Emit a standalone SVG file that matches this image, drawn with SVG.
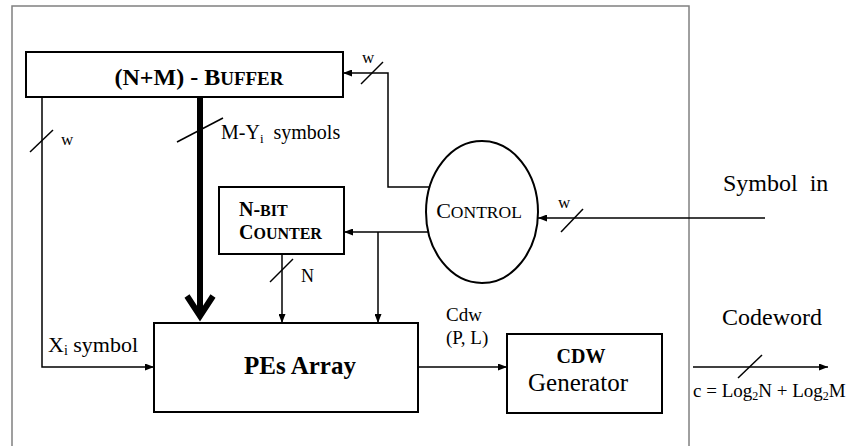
<svg xmlns="http://www.w3.org/2000/svg" width="857" height="446" viewBox="0 0 857 446">
<defs>
<style>
text{font-family:"Times New Roman","Liberation Serif",Tinos,serif;fill:#000}
.box{fill:#fff;stroke:#000;stroke-width:2}
.ln{fill:none;stroke:#000;stroke-width:1.5}
.sl{fill:none;stroke:#000;stroke-width:1.5}
.b{font-weight:bold}
</style>
<marker id="ah" viewBox="0 0 9 7" refX="9" refY="3.5" markerWidth="9" markerHeight="7" markerUnits="userSpaceOnUse" orient="auto">
<path d="M0,0 L9,3.5 L0,7 Z" fill="#000"/>
</marker>
</defs>
<rect width="857" height="446" fill="#fff"/>
<rect id="frame" x="12" y="6" width="677" height="450" fill="none" stroke="#808080" stroke-width="1.5"/>

<g id="connectors">
<!-- buffer to PEs (w) -->
<polyline class="ln" points="42,97 42,367 154,367" marker-end="url(#ah)"/>
<line class="sl" x1="30" y1="152" x2="53" y2="130"/>
<!-- thick M-Yi -->
<line x1="200" y1="97" x2="200" y2="314" stroke="#000" stroke-width="6"/>
<polyline points="187,296 200,316 213,296" fill="none" stroke="#000" stroke-width="6" stroke-linejoin="miter"/>
<line class="sl" x1="177" y1="142" x2="223" y2="118"/>
<!-- control to buffer -->
<polyline class="ln" points="433,187 388,187 388,73 343,73" marker-end="url(#ah)"/>
<line class="sl" x1="361" y1="84" x2="383" y2="62"/>
<!-- control to counter -->
<line class="ln" x1="428" y1="232" x2="344" y2="232" marker-end="url(#ah)"/>
<line class="ln" x1="378" y1="232" x2="378" y2="323" marker-end="url(#ah)"/>
<!-- counter to PEs -->
<line class="ln" x1="282" y1="254" x2="282" y2="323" marker-end="url(#ah)"/>
<line class="sl" x1="270" y1="282" x2="293" y2="259"/>
<!-- symbol in -->
<line class="ln" x1="765" y1="218" x2="538" y2="218" marker-end="url(#ah)"/>
<line class="sl" x1="561" y1="232" x2="583" y2="209"/>
<!-- PEs to CDW -->
<line class="ln" x1="418" y1="367" x2="507" y2="367" marker-end="url(#ah)"/>
<!-- codeword out -->
<line class="ln" x1="693" y1="367" x2="828" y2="367" marker-end="url(#ah)"/>
<line class="sl" x1="738" y1="378" x2="762" y2="355"/>
</g>

<g id="buffer">
<rect class="box" x="26" y="52" width="317" height="45"/>
<text class="b" x="199" y="85" text-anchor="middle" font-size="24">(N+M) - B<tspan font-size="19">UFFER</tspan></text>
</g>

<g id="counter">
<rect class="box" x="219" y="187" width="125" height="67"/>
<text class="b" x="239" y="216" font-size="20">N-<tspan font-size="16">BIT</tspan></text>
<text class="b" x="239" y="239" font-size="20">C<tspan font-size="16">OUNTER</tspan></text>
</g>

<g id="control">
<ellipse cx="482" cy="212" rx="56" ry="71" fill="#fff" stroke="#000" stroke-width="2"/>
<text x="479" y="218" text-anchor="middle" font-size="22">C<tspan font-size="17.5">ONTROL</tspan></text>
</g>

<g id="pes">
<rect class="box" x="154" y="323" width="264" height="89"/>
<text class="b" x="300" y="374" text-anchor="middle" font-size="25">PEs Array</text>
</g>

<g id="cdw">
<rect class="box" x="507" y="334" width="155" height="79"/>
<text class="b" x="581" y="363" text-anchor="middle" font-size="20">CDW</text>
<text x="578" y="391" text-anchor="middle" font-size="25">Generator</text>
</g>

<g id="labels">
<text x="61" y="145" font-size="17">w</text>
<text x="221" y="139" font-size="20" xml:space="preserve">M-Y<tspan font-size="13" dy="4">i</tspan><tspan dy="-4">  symbols</tspan></text>
<text x="362" y="63" font-size="17">w</text>
<text x="301" y="282" font-size="18">N</text>
<text x="558" y="208" font-size="17">w</text>
<text x="723" y="191" font-size="24" xml:space="preserve">Symbol  in</text>
<text x="48" y="352" font-size="22">X<tspan font-size="14" dy="3">i</tspan><tspan dy="-3"> symbol</tspan></text>
<text x="446" y="321" font-size="19">Cdw</text>
<text x="446" y="344" font-size="19">(P, L)</text>
<text x="722" y="325" font-size="24">Codeword</text>
<text x="693" y="397" font-size="19">c = Log<tspan font-size="12" dy="3">2</tspan><tspan dy="-3">N + Log</tspan><tspan font-size="12" dy="3">2</tspan><tspan dy="-3">M</tspan></text>
</g>
</svg>
